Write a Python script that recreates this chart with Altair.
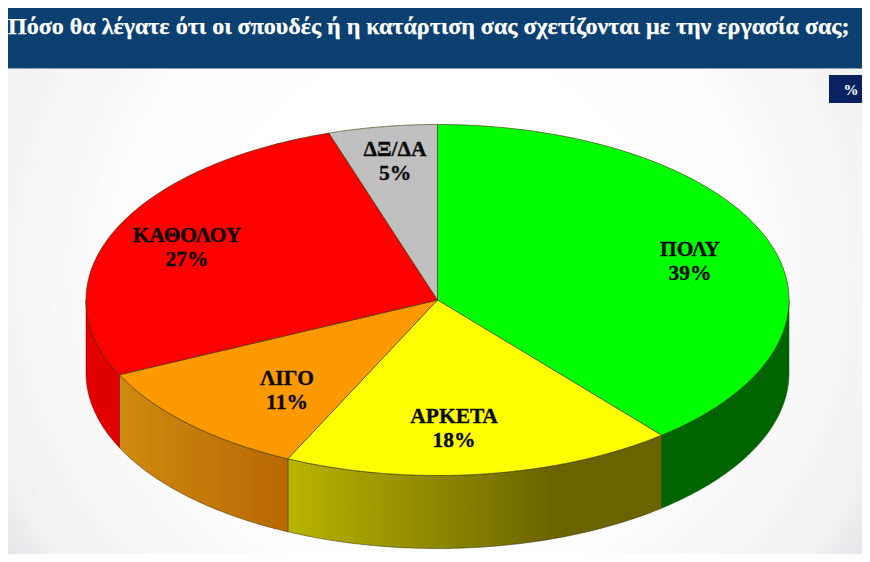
import numpy as np
import pandas as pd
import altair as alt

TITLE = "Πόσο θα λέγατε ότι οι σπουδές ή η κατάρτιση σας σχετίζονται με την εργασία σας;"
categories = ["ΠΟΛΥ", "ΑΡΚΕΤΑ", "ΛΙΓΟ", "ΚΑΘΟΛΟΥ", "ΔΞ/ΔΑ"]
shares = [39, 18, 11, 27, 5]
top_colors = ["#00ff00", "#ffff00", "#ff9900", "#ff0000", "#c0c0c0"]
side_stops = [
    [(0, "#006400"), (1, "#006400")],
    [(0, "#b9b500"), (0.72, "#6b6200"), (1, "#6b6200")],
    [(0, "#cf8a10"), (1, "#b86800")],
    [(0, "#e00000"), (1, "#e00000")],
    [(0, "#c0c0c0"), (1, "#c0c0c0")],
]
side_lines = ["#006400", "#2a2a00", "#3a2500", "#800000", "#808080"]
label_x = [690, 454, 287, 187, 395]
label_y = [250, 417, 379, 236, 150]

# layout of the tilted pie, in page pixels
CX, CY, RX, RY, DEPTH = 437.5, 300, 351.5, 175.5, 73
OX, OY, W, H = 8, 8, 854, 546

X_SCALE = alt.Scale(domain=[OX, OX + W], range=[0, W], nice=False, zero=False)
Y_SCALE = alt.Scale(domain=[OY, OY + H], range=[0, H], nice=False, zero=False)


def X(f="x"):
    return alt.X(f"{f}:Q", scale=X_SCALE, axis=None)


def Y(f="y"):
    return alt.Y(f"{f}:Q", scale=Y_SCALE, axis=None)


def ellipse(a):
    """Angle in degrees, clockwise from the top of the pie."""
    t = np.radians(a)
    return CX + RX * np.sin(t), CY - RY * np.cos(t)


def box(x0, x1, y0, y1, **mark):
    d = pd.DataFrame({"x": [x0], "x2": [x1], "y": [y0], "y2": [y1]})
    return alt.Chart(d).mark_rect(**mark).encode(x=X(), x2="x2:Q", y=Y(), y2="y2:Q")


def text_layer(rows, **mark):
    return alt.Chart(pd.DataFrame(rows)).mark_text(
        font="Liberation Serif", fontWeight="bold", **mark
    ).encode(x=X(), y=Y(), text="t:N")


layers = []

# background
layers.append(box(OX, OX + W, 69, OY + H, fill=alt.RadialGradient(
    gradient="radial", x1=0.5, y1=0.45, x2=0.5, y2=0.45, r1=0, r2=0.74,
    stops=[alt.GradientStop(offset=0, color="#ffffff"),
           alt.GradientStop(offset=0.5, color="#fdfdfd"),
           alt.GradientStop(offset=0.75, color="#f1f1f2"),
           alt.GradientStop(offset=1, color="#c6c7ca")])))
layers.append(box(OX, OX + W, OY, 68, color="#0c4070"))
layers.append(box(OX, OX + W, 68, 69, color="#8a9db3"))
layers.append(box(829, OX + W, 75, 103, color="#0a2160"))

edges = np.cumsum([0] + shares) * 3.6

# side wall
for i in range(len(shares)):
    a0, a1 = max(edges[i], 90), min(edges[i + 1], 270)
    if a1 <= a0:
        continue
    ang = np.linspace(a0, a1, 80)
    ex, ey = ellipse(ang)
    d = pd.DataFrame({"x": ex, "y": ey, "y2": ey + DEPTH})
    fill = alt.LinearGradient(
        gradient="linear", x1=0, y1=0, x2=1, y2=0,
        stops=[alt.GradientStop(offset=o, color=c) for o, c in side_stops[i]],
    )
    layers.append(
        alt.Chart(d).mark_area(fill=fill, stroke=side_lines[i], strokeWidth=0.5, interpolate="linear")
        .encode(x=X(), y=Y(), y2="y2:Q")
    )

# top face
for i in range(len(shares)):
    ang = np.linspace(edges[i], edges[i + 1], 120)
    ex, ey = ellipse(ang)
    px = np.r_[CX, ex, CX]
    py = np.r_[CY, ey, CY]
    d = pd.DataFrame({"x": px, "y": py, "o": np.arange(len(px))})
    layers.append(
        alt.Chart(d).mark_line(fill=top_colors[i], stroke="#333300", strokeWidth=0.6, interpolate="linear")
        .encode(x=X(), y=Y(), order="o:Q")
    )

# labels
name_rows = [{"x": x, "y": y, "t": c} for x, y, c in zip(label_x, label_y, categories)]
pct_rows = [{"x": x, "y": y + 24, "t": f"{s}%"} for x, y, s in zip(label_x, label_y, shares)]
ink = dict(color="#0a0a0a", stroke="#0a0a0a", strokeWidth=0.35, align="center", baseline="middle")
layers.append(text_layer(name_rows, fontSize=21.5, **ink))
layers.append(text_layer(pct_rows, fontSize=21.5, **ink))
layers.append(text_layer([{"x": 851, "y": 90, "t": "%"}], fontSize=15, color="#ffffff", align="center", baseline="middle"))
layers.append(text_layer([{"x": 8, "y": 27, "t": TITLE}], fontSize=24, color="#ffffff", stroke="#ffffff",
                         strokeWidth=0.25, align="left", baseline="middle"))

chart = (
    alt.layer(*layers)
    .properties(width=W, height=H, padding=0, autosize=alt.AutoSizeParams(type="none"), background="white")
    .configure_view(stroke=None)
)
chart.save("out.html", embed_options={"renderer": "svg", "actions": False})
